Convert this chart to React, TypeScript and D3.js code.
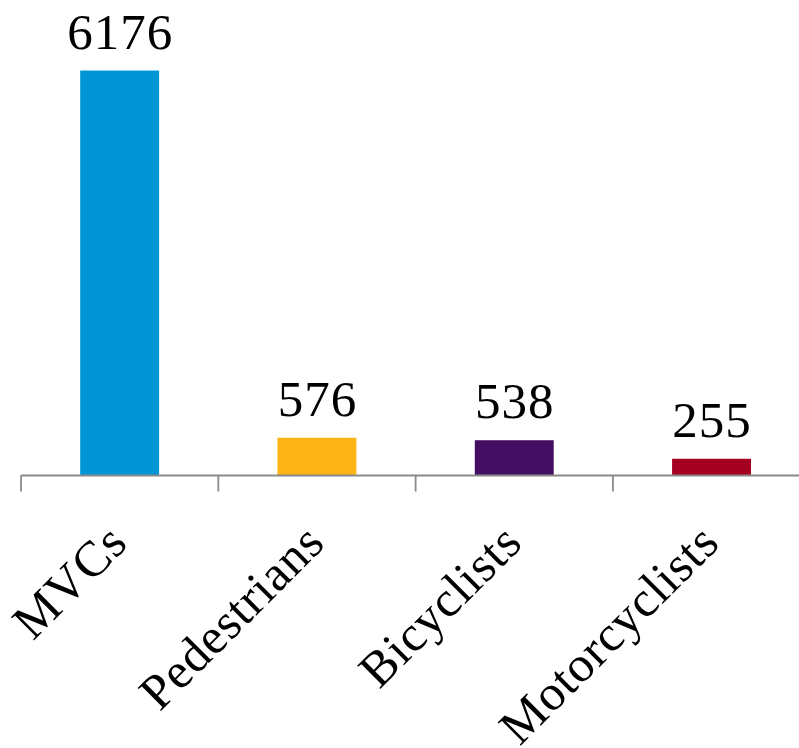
import React from "react";
import * as d3 from "d3";

const categories = ["MVCs", "Pedestrians", "Bicyclists", "Motorcyclists"];
const values = [6176, 576, 538, 255];
const colors = ["#0096D6", "#FDB515", "#440E62", "#A50021"];

const W = 799;
const H = 748;
const FONT = "'Liberation Serif', 'Times New Roman', serif";

export default function App() {
  const x = d3
    .scaleBand<string>()
    .domain(categories)
    .range([21, 21 + 4 * 197.3])
    .paddingInner(0.6)
    .paddingOuter(0.3);
  const y = d3.scaleLinear().domain([0, 7000]).range([475.5, 16.5]);
  const step = x.step();
  const axisY = y(0);
  const tickIdx = d3.range(categories.length + 1);

  return (
    <svg
      width={W}
      height={H}
      style={{ position: "absolute", left: 0, top: 0, background: "#fff" }}
    >
      {categories.map((c, i) => (
        <rect
          key={c}
          x={x(c)}
          y={y(values[i])}
          width={x.bandwidth()}
          height={axisY - y(values[i])}
          fill={colors[i]}
        />
      ))}
      <line x1={21} x2={W + 20} y1={axisY} y2={axisY} stroke="#8a8a8a" strokeWidth={1.8} />
      {tickIdx.map((i) => (
        <line
          key={i}
          x1={21 + i * step}
          x2={21 + i * step}
          y1={axisY}
          y2={axisY + 16}
          stroke="#8a8a8a"
          strokeWidth={1.8}
        />
      ))}
      {categories.map((c, i) => (
        <text
          key={"v" + c}
          x={(x(c) as number) + x.bandwidth() / 2 + 0.5}
          y={y(values[i]) - 22}
          textAnchor="middle"
          fontFamily={FONT}
          fontSize={51}
          letterSpacing={1}
          fill="#000"
        >
          {values[i]}
        </text>
      ))}
      {categories.map((c) => {
        const cx = (x(c) as number) + x.bandwidth() / 2 + 10;
        return (
          <text
            key={"l" + c}
            transform={`translate(${cx},545) rotate(-45)`}
            textAnchor="end"
            fontFamily={FONT}
            fontSize={50}
            letterSpacing={0.8}
            fill="#000"
          >
            {c}
          </text>
        );
      })}
    </svg>
  );
}
